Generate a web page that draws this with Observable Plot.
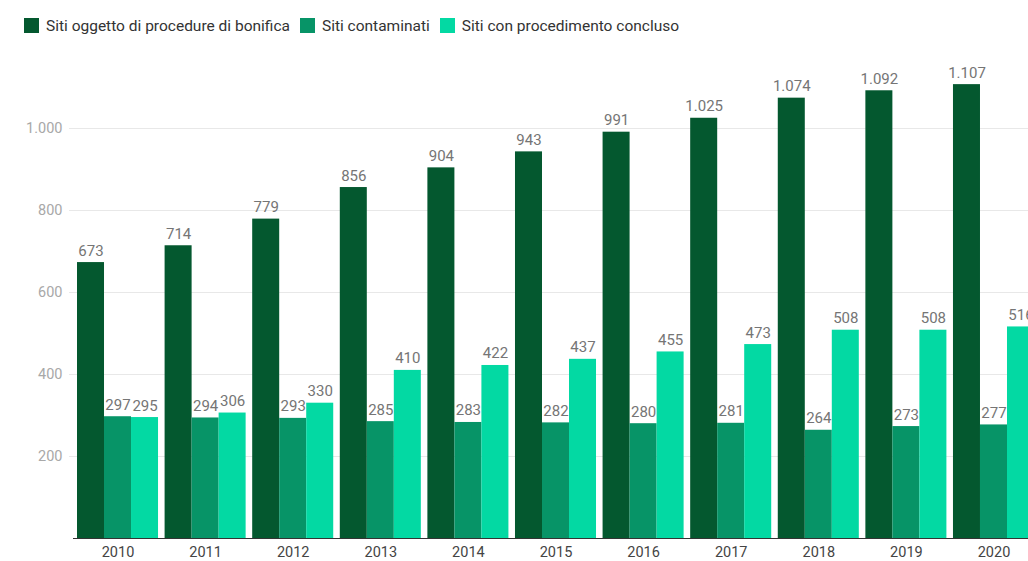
<!DOCTYPE html>
<html>
<head>
<meta charset="utf-8">
<script src="https://cdn.jsdelivr.net/npm/d3@7"></script>
<script src="https://cdn.jsdelivr.net/npm/@observablehq/plot@0.6"></script>
<style>
  html, body { margin: 0; padding: 0; background: #fff; overflow: hidden; width: 1028px; height: 561px; }
  body { font-family: Roboto, "Noto Sans", sans-serif; }
  #legend { height: 45px; display: flex; align-items: center; padding-left: 24px; box-sizing: border-box; padding-top: 6px; }
  .item { display: flex; align-items: center; margin-right: 10px; font-size: 15.5px; color: #333; }
  .sw { width: 15px; height: 15px; margin-right: 7px; }
  #chart svg { max-width: none !important; }
</style>
</head>
<body>
<div id="legend"></div>
<div id="chart"></div>
<script>
const years = ["2010","2011","2012","2013","2014","2015","2016","2017","2018","2019","2020"];
const seriesNames = ["Siti oggetto di procedure di bonifica", "Siti contaminati", "Siti con procedimento concluso"];
const seriesColors = ["#04582f", "#079467", "#03d9a3"];
const bonifica = [673, 714, 779, 856, 904, 943, 991, 1025, 1074, 1092, 1107];
const contaminati = [297, 294, 293, 285, 283, 282, 280, 281, 264, 273, 277];
const concluso = [295, 306, 330, 410, 422, 437, 455, 473, 508, 508, 516];
const yTicks = [200, 400, 600, 800, 1000];

const itLocale = d3.formatLocale({decimal: ",", thousands: ".", grouping: [3], currency: ["", " €"]});
const fmt = itLocale.format(",d");

const seriesValues = [bonifica, contaminati, concluso];
const data = [];
years.forEach((y, i) => {
  seriesNames.forEach((s, j) => data.push({year: y, series: s, value: seriesValues[j][i]}));
});

const legend = document.getElementById("legend");
seriesNames.forEach((s, j) => {
  const it = document.createElement("div");
  it.className = "item";
  const sw = document.createElement("div");
  sw.className = "sw";
  sw.style.background = seriesColors[j];
  const t = document.createElement("span");
  t.textContent = s;
  it.appendChild(sw); it.appendChild(t);
  legend.appendChild(it);
});

const chart = Plot.plot({
  width: 1036,
  height: 516,
  marginLeft: 77,
  marginRight: 2,
  marginTop: 1,
  marginBottom: 23,
  style: {fontFamily: "Roboto, 'Noto Sans', sans-serif", background: "#fff", overflow: "visible", maxWidth: "none"},
  fx: {domain: years, padding: 0.075, paddingInner: 0.075, paddingOuter: 0, round: false, label: null},
  x: {domain: seriesNames, padding: 0, round: false, axis: null},
  y: {domain: [0, 1200], axis: null},
  color: {domain: seriesNames, range: seriesColors},
  marks: [
    Plot.ruleY(yTicks, {stroke: "#e8e8e8", strokeWidth: 1, insetLeft: -8, insetRight: -4}),
    Plot.barY(data, {fx: "year", x: "series", y: "value", fill: "series"}),
    Plot.ruleY([0], {stroke: "#333", strokeWidth: 1, insetLeft: -4, insetRight: -4}),
    Plot.text(data, {fx: "year", x: "series", y: "value", text: d => fmt(d.value), dy: -7, lineAnchor: "bottom", fontSize: 15, fill: "#757575"}),
    Plot.axisY(yTicks, {tickSize: 0, tickPadding: 15, tickFormat: fmt, fontSize: 14.5, color: "#a8a8a8", label: null}),
    Plot.axisFx({anchor: "bottom", tickSize: 0, tickPadding: 8, fontSize: 14.5, color: "#444", label: null})
  ]
});
document.getElementById("chart").appendChild(chart);
</script>
</body>
</html>
